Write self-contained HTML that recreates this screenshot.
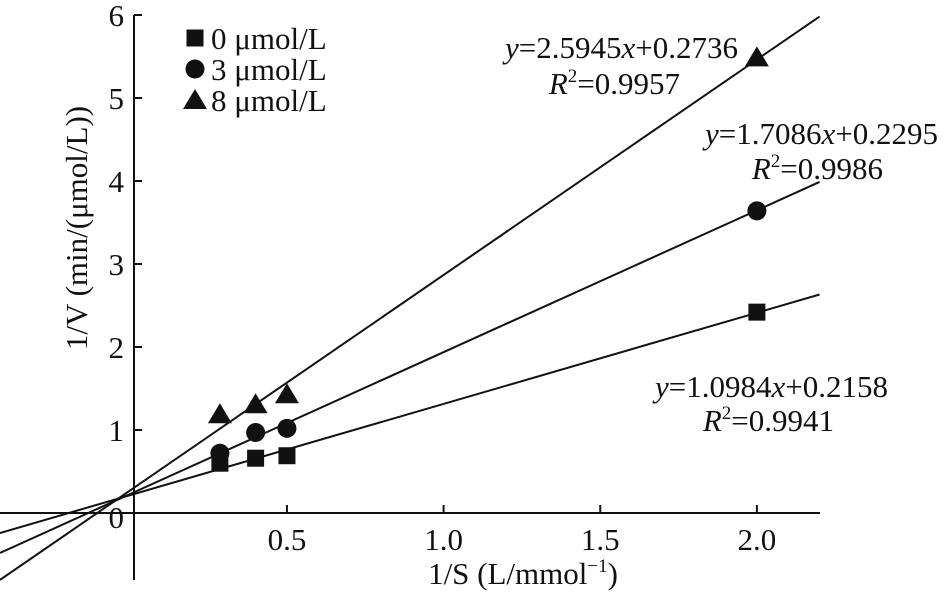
<!DOCTYPE html>
<html><head><meta charset="utf-8"><style>
body{margin:0;background:#fff}
svg text{font-family:"Liberation Serif",serif;fill:#111}
</style></head><body>
<svg width="945" height="596" viewBox="0 0 945 596" id="c">
<g id="g"></g>
</svg>
<script>
const xTicks=[0.5,1.0,1.5,2.0];
const xTickLabels=["0.5","1.0","1.5","2.0"];
const yTicks=[0,1,2,3,4,5,6];
const yTickLabels=["0","1","2","3","4","5","6"];
const seriesNames=["0 μmol/L","3 μmol/L","8 μmol/L"];
const xValues=[0.286,0.4,0.5,2.0];
const s0=[0.60,0.66,0.69,2.42];
const s3=[0.72,0.97,1.02,3.64];
const s8=[1.19,1.31,1.43,5.49];
const slopes=[1.0984,1.7086,2.5945];
const intercepts=[0.2158,0.2295,0.2736];
const eqLabels=["y=1.0984x+0.2158","y=1.7086x+0.2295","y=2.5945x+0.2736"];
const r2Labels=["0.9941","0.9986","0.9957"];

const X=v=>130.3+v*313.3, Y=v=>513-v*83;
const NS="http://www.w3.org/2000/svg", g=document.getElementById('g');
function mk(t,a,p){const e=document.createElementNS(NS,t);for(const k in a)e.setAttribute(k,a[k]);(p||g).appendChild(e);return e;}
const FS=31;
let e=mk('line',{x1:0,y1:513,x2:820,y2:513,stroke:'#111','stroke-width':2});


e=mk('line',{x1:134,y1:15,x2:134,y2:580,stroke:'#111','stroke-width':2});


xTicks.forEach((v,i)=>{
 e=mk('line',{x1:X(v),y1:513,x2:X(v),y2:505,stroke:'#111','stroke-width':2});
 
 
 e=mk('text',{x:X(v),y:550,'font-size':FS,'text-anchor':'middle'});e.textContent=xTickLabels[i];
 
 
});
yTicks.forEach((v,i)=>{
 if(v>0){e=mk('line',{x1:134,y1:Y(v),x2:142,y2:Y(v),stroke:'#111','stroke-width':2});
 
 }
 e=mk('text',{x:124,y:Y(v)+(v===0?15:11),'font-size':FS,'text-anchor':'end'});e.textContent=yTickLabels[i];
 
 
});
e=mk('text',{x:523,y:584,'font-size':FS,'text-anchor':'middle'});e.innerHTML='1/S (L/mmol<tspan font-size="19" dy="-12">−1</tspan><tspan dy="12">)</tspan>';


e=mk('text',{x:0,y:0,'font-size':FS,'text-anchor':'middle',transform:'translate(87,228) rotate(-90)'});e.textContent='1/V (min/(μmol/L))';


slopes.forEach((m,i)=>{
 const xa=-0.416,xb=2.2;
 e=mk('line',{x1:X(xa),y1:Y(m*xa+intercepts[i]),x2:X(xb),y2:Y(m*xb+intercepts[i]),stroke:'#111','stroke-width':2});
 
 
});
function marker(k,cx,cy,name){
 let m;
 if(k===0)m=mk('rect',{x:cx-8.5,y:cy-8.5,width:17,height:17,fill:'#111'});
 else if(k===1)m=mk('circle',{cx:cx,cy:cy,r:9.5,fill:'#111'});
 else m=mk('polygon',{points:`${cx},${cy-11} ${cx-12},${cy+9} ${cx+12},${cy+9}`,fill:'#111'});
 
 
}
[s0,s3,s8].forEach((s,k)=>s.forEach((v,i)=>marker(k,X(xValues[i]),Y(v),'point-s'+k)));
seriesNames.forEach((n,k)=>{
 const y=38+k*31;
 marker(k,195,y,'legend-marker');
 e=mk('text',{x:211,y:y+11,'font-size':FS});e.textContent=n;
 
 
});
const eqPos=[[738,47,680,83],[938,133,883,168],[888,386,834,420]];
const eqOrder=[2,1,0];
eqPos.forEach((p,j)=>{
 const i=eqOrder[j];
 const parts=eqLabels[i].split('x');
 e=mk('text',{x:p[0],y:p[1]+11,'font-size':FS,'text-anchor':'end'});
 e.innerHTML='<tspan font-style="italic">y</tspan>'+parts[0].slice(1)+'<tspan font-style="italic">x</tspan>'+parts[1];
 
 
 e=mk('text',{x:p[2],y:p[3]+11,'font-size':FS,'text-anchor':'end'});
 e.innerHTML='<tspan font-style="italic">R</tspan><tspan font-size="19" dy="-12">2</tspan><tspan dy="12">='+r2Labels[i]+'</tspan>';
 
 
});
</script>
</body></html>
